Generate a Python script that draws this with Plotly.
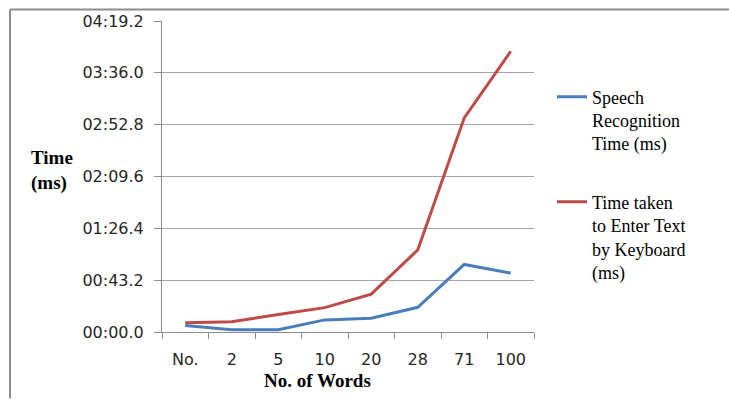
import plotly.graph_objects as go

# Number of words typed / spoken
categories = ["No.", "2", "5", "10", "20", "28", "71", "100"]

# Times in seconds
speech_time = [5.4, 1.9, 1.8, 10.1, 11.5, 20.6, 56.3, 49.1]
keyboard_time = [7.7, 8.5, 14.5, 20.3, 31.6, 68.4, 178.5, 234.0]

# Y axis ticks (seconds) and their mm:ss.s labels
y_tick_vals = [0, 43.2, 86.4, 129.6, 172.8, 216.0, 259.2]
y_tick_text = ["00:00.0", "00:43.2", "01:26.4", "02:09.6", "02:52.8", "03:36.0", "04:19.2"]

W, H = 729, 399
ML, MR, MT, MB = 162, 195, 18, 67
PW, PH = W - ML - MR, H - MT - MB


def px_x(x):
    return (x - ML) / PW


def px_y(y):
    return (H - MB - y) / PH


SERIF = "Liberation Serif"
SANS = "DejaVu Sans"
AXIS_GREY = "#8c8c8c"

fig = go.Figure()
fig.add_trace(go.Scatter(
    x=categories, y=speech_time, mode="lines",
    name="Speech<br>Recognition<br>Time (ms)",
    line=dict(color="#4a7ebb", width=3),
    legendgroup="a",
))
fig.add_trace(go.Scatter(
    x=categories, y=keyboard_time, mode="lines",
    name="Time taken<br>to Enter Text<br>by Keyboard<br>(ms)",
    line=dict(color="#be4b48", width=3),
    legendgroup="b",
))

fig.update_layout(
    width=W, height=H,
    margin=dict(l=ML, r=MR, t=MT, b=MB, pad=0),
    paper_bgcolor="white", plot_bgcolor="white",
    showlegend=True,
    legend=dict(
        x=px_x(552), y=px_y(76), xanchor="left", yanchor="top",
        font=dict(family=SERIF, size=18, color="black"),
        valign="top", tracegroupgap=32,
        bgcolor="rgba(0,0,0,0)",
    ),
    xaxis=dict(
        type="category",
        range=[-0.5, len(categories) - 0.5],
        showline=True, linecolor=AXIS_GREY, linewidth=1,
        ticks="outside", tickson="boundaries", ticklen=6, tickcolor=AXIS_GREY,
        showgrid=False, zeroline=False,
        tickfont=dict(family=SANS, size=16, color="#262626"),
        ticklabelstandoff=13,
    ),
    yaxis=dict(
        range=[0, 259.2],
        tickvals=y_tick_vals, ticktext=y_tick_text,
        showline=True, linecolor=AXIS_GREY, linewidth=1,
        ticks="outside", ticklen=7, tickcolor=AXIS_GREY,
        showgrid=True, gridcolor="#a6a6a6", gridwidth=1,
        zeroline=False,
        tickfont=dict(family=SANS, size=16, color="#262626"),
        ticklabelstandoff=7,
    ),
    annotations=[
        dict(
            text="<b>Time<br>(ms)</b>", xref="paper", yref="paper",
            x=px_x(29), y=px_y(168.5), xanchor="left", yanchor="middle",
            align="left", showarrow=False,
            font=dict(family=SERIF, size=19, color="black"),
        ),
        dict(
            text="<b>No. of Words</b>", xref="paper", yref="paper",
            x=px_x(317), y=px_y(381), xanchor="center", yanchor="middle",
            showarrow=False,
            font=dict(family=SERIF, size=19, color="black"),
        ),
    ],
    shapes=[
        # outer frame: top and left edges
        dict(type="line", xref="paper", yref="paper",
             x0=px_x(10), x1=px_x(729), y0=px_y(6.5), y1=px_y(6.5),
             line=dict(color=AXIS_GREY, width=2)),
        dict(type="line", xref="paper", yref="paper",
             x0=px_x(10), x1=px_x(10), y0=px_y(6.5), y1=px_y(399),
             line=dict(color=AXIS_GREY, width=2)),
    ],
)

fig.write_html("out.html")
